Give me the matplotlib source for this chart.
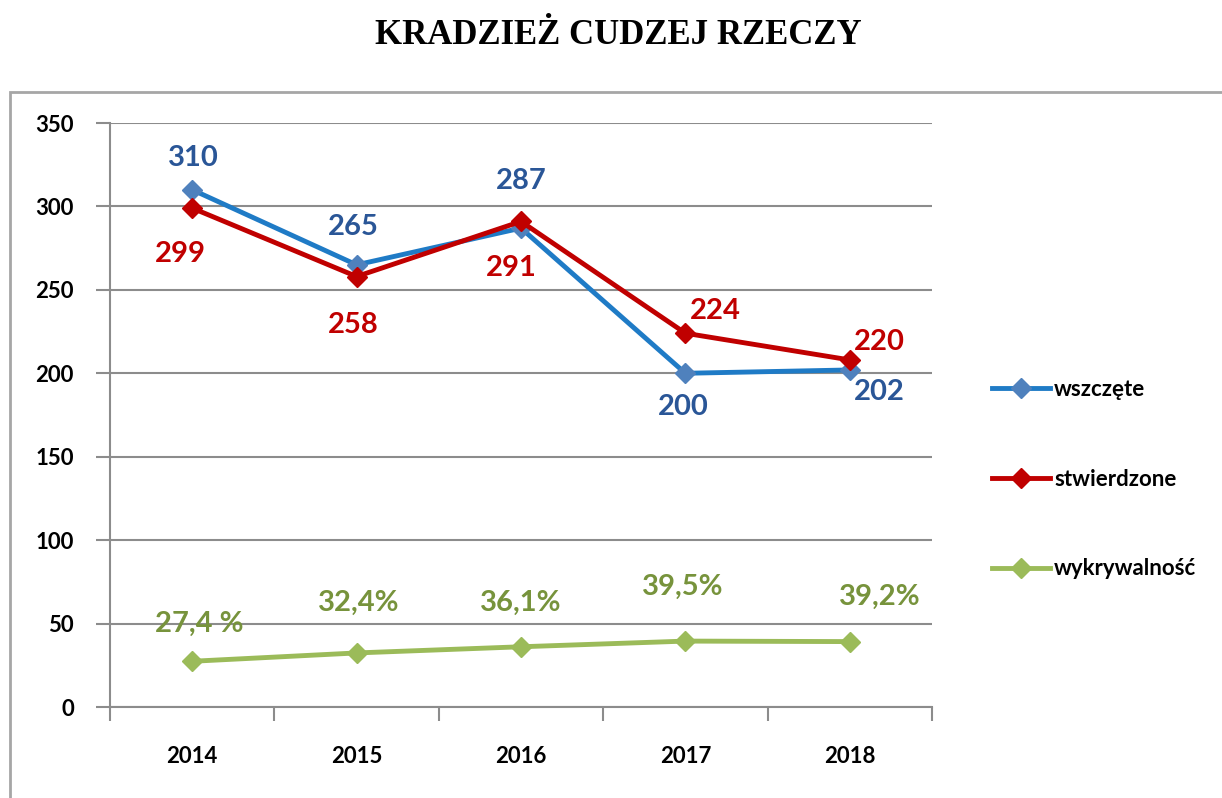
import matplotlib.pyplot as plt
from matplotlib.patches import Rectangle

years = ["2014", "2015", "2016", "2017", "2018"]
wszczete = [310, 265, 287, 200, 202]
stwierdzone = [299, 258, 291, 224, 208]
wykrywalnosc = [27.4, 32.4, 36.1, 39.5, 39.2]

wszczete_labels = ["310", "265", "287", "200", "202"]
stwierdzone_labels = ["299", "258", "291", "224", "220"]
wykrywalnosc_labels = ["27,4 %", "32,4%", "36,1%", "39,5%", "39,2%"]

# label offsets in pixels (dx, dy) from each point
wszczete_offsets = [(1, 32), (-3, 38), (0, 47), (-2, -34), (30, -22)]
stwierdzone_offsets = [(-12, -46), (-3, -48), (-10, -47), (30, 22), (30, 18)]
wykrywalnosc_offsets = [(7, 37), (2, 50), (0, 44), (-3, 54), (30, 45)]

BLUE_LINE = "#1F7BC6"
BLUE_MARK = "#4F81BD"
BLUE_TEXT = "#2A5697"
RED = "#C00000"
GREEN_LINE = "#9BBB59"
GREEN_TEXT = "#77933C"
GRID = "#8C8C8C"

plt.rcParams["font.family"] = ["Lato", "DejaVu Sans"]

fig = plt.figure(figsize=(12.22, 7.98), dpi=100)
fig.patches.append(Rectangle((10 / 1222, -0.1), 1.2, (798 - 92) / 798 + 0.1,
                             transform=fig.transFigure, fill=False,
                             edgecolor="#A6A6A6", linewidth=2))

ax = fig.add_axes([110 / 1222, 1 - 707 / 798, (932 - 110) / 1222, (707 - 123) / 798])
x = list(range(len(years)))

ax.plot(x, wszczete, color=BLUE_LINE, lw=3.5, marker="D", ms=10,
        mfc=BLUE_MARK, mec=BLUE_MARK, label="wszczęte", zorder=3)
ax.plot(x, stwierdzone, color=RED, lw=3.5, marker="D", ms=10,
        mfc=RED, mec=RED, label="stwierdzone", zorder=4)
ax.plot(x, wykrywalnosc, color=GREEN_LINE, lw=3.5, marker="D", ms=10,
        mfc=GREEN_LINE, mec=GREEN_LINE, label="wykrywalność", zorder=3)

px = 0.72
for vals, labels, offs, col in [
    (wszczete, wszczete_labels, wszczete_offsets, BLUE_TEXT),
    (stwierdzone, stwierdzone_labels, stwierdzone_offsets, RED),
    (wykrywalnosc, wykrywalnosc_labels, wykrywalnosc_offsets, GREEN_TEXT),
]:
    for i, (v, lab, (dx, dy)) in enumerate(zip(vals, labels, offs)):
        ax.annotate(lab, (i, v), xytext=(dx * px, dy * px), textcoords="offset points",
                    ha="center", va="center", fontsize=21, fontweight="bold", color=col)

ax.set_xlim(-0.5, 4.5)
ax.set_ylim(0, 350)
ax.set_yticks(range(0, 351, 50))
ax.yaxis.grid(True, color=GRID, lw=1.5)
ax.set_axisbelow(True)
ax.set_xticks([i - 0.5 for i in range(6)], minor=False)
ax.set_xticklabels([])
ax.set_xticks(x, minor=True)
ax.set_xticklabels(years, minor=True)
ax.tick_params(axis="x", which="major", length=10, width=1.5, color=GRID, direction="out")
ax.tick_params(axis="x", which="minor", length=0, pad=28, labelsize=16)
ax.tick_params(axis="y", length=10, width=1.5, color=GRID, labelsize=16, pad=16)
for lab in ax.get_xticklabels(minor=True) + ax.get_yticklabels():
    lab.set_fontweight("bold")
for side in ["top", "right"]:
    ax.spines[side].set_visible(False)
for side in ["left", "bottom"]:
    ax.spines[side].set_color(GRID)
    ax.spines[side].set_linewidth(1.5)

fig.legend(loc="center left", bbox_to_anchor=(972 / 1222, 1 - 479 / 798),
           frameon=False, handlelength=2.6, labelspacing=3.1,
           handletextpad=0.2, prop={"weight": "bold", "size": 16})

fig.text(618 / 1222, 1 - 35 / 798, "KRADZIEŻ CUDZEJ RZECZY", ha="center", va="center",
         fontsize=25, fontweight="bold", family="Liberation Serif")

fig.savefig("out.png", dpi=100)
